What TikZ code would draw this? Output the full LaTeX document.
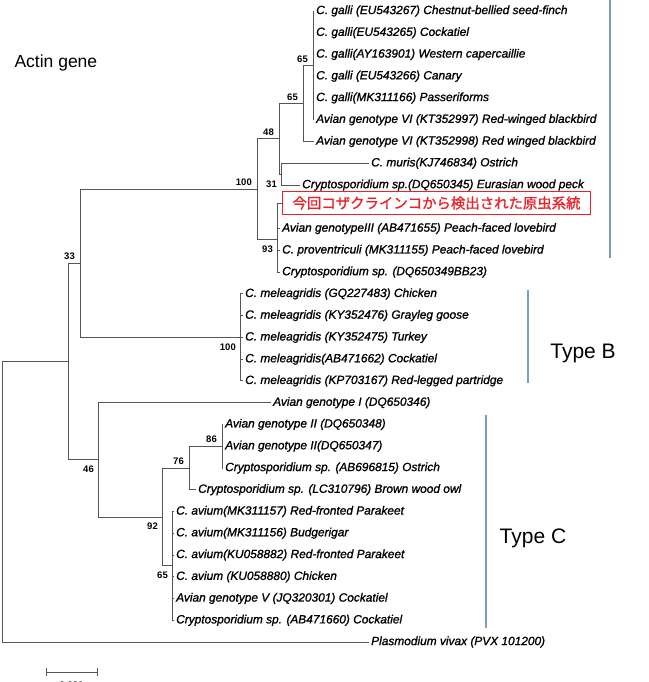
\documentclass[tikz,border=0pt]{standalone}
\usepackage{fontspec}
\setmainfont{Liberation Sans}[ItalicFeatures={FakeBold=1.2}]
\newfontfamily\cjk{Noto Sans CJK JP}[FakeBold=1.2]
\definecolor{treegray}{RGB}{85,85,85}
\definecolor{typeblue}{RGB}{125,155,195}
\definecolor{hitred}{RGB}{235,35,40}

\begin{document}
\begin{tikzpicture}[x=1pt,y=-1pt,
	branch/.style={draw=treegray,line width=0.9pt},
	leaf/.style={anchor=west,inner sep=2pt,font=\fontsize{11.9}{12}\selectfont\itshape},
	bootup/.style={anchor=south east,inner sep=1pt,xshift=-4pt,yshift=2pt,font=\fontsize{9.5}{10}\selectfont\bfseries},
	bootdown/.style={anchor=north east,inner sep=1pt,xshift=-3pt,yshift=-5pt,font=\fontsize{9.5}{10}\selectfont\bfseries},
	hitbox/.style={anchor=west,draw=hitred,text=hitred,line width=1.1pt,inner xsep=10pt,inner ysep=2pt,minimum height=23pt,font=\cjk\fontsize{14.4}{15}\selectfont},
	typeline/.style={draw=typeblue,line width=1.2pt},
	typename/.style={font=\fontsize{21}{22}\selectfont}]
	\useasboundingbox (0,0) rectangle (648,682);

	% inner nodes of the tree
	\coordinate (n65a) at (313,65.4);
	\coordinate (n65b) at (303,103.5);
	\coordinate (n31) at (281,174.2);
	\coordinate (n48) at (279,138.9);
	\coordinate (n93) at (277,239.5);
	\coordinate (n100a) at (257,189.2);
	\coordinate (n100b) at (240,337.4);
	\coordinate (n33) at (80,263.3);
	\coordinate (n86) at (222,446.2);
	\coordinate (n76) at (189,468);
	\coordinate (n65c) at (172,565.9);
	\coordinate (n92) at (162,517);
	\coordinate (n46) at (98,459.8);
	\coordinate (n68) at (68,361.6);
	\coordinate (root) at (2,501.8);

	% type A
	\node[leaf] (l1) at (314,11) {C. galli (EU543267) Chestnut-bellied seed-finch};
	\node[leaf] (l2) at (314,32.8) {C. galli(EU543265) Cockatiel};
	\node[leaf] (l3) at (314,54.5) {C. galli(AY163901) Western capercaillie};
	\node[leaf] (l4) at (314,76.3) {C. galli (EU543266) Canary};
	\node[leaf] (l5) at (314,98) {C. galli(MK311166) Passeriforms};
	\node[leaf] (l6) at (314,119.8) {Avian genotype VI (KT352997) Red-winged blackbird};
	\node[leaf] (l7) at (314,141.6) {Avian genotype VI (KT352998) Red winged blackbird};
	\node[leaf] (l8) at (369,163.3) {C. muris(KJ746834) Ostrich};
	\node[leaf] (l9) at (300,185.1) {Cryptosporidium sp.(DQ650345) Eurasian wood peck};
	\node[hitbox] (hit) at (282,203) {今回コザクラインコから検出された原虫系統};
	\node[leaf] (l11) at (280,228.6) {Avian genotypeIII (AB471655) Peach-faced lovebird};
	\node[leaf] (l12) at (280,250.4) {C. proventriculi (MK311155) Peach-faced lovebird};
	\node[leaf] (l13) at (280,272.1) {Cryptosporidium sp. (DQ650349BB23)};

	% type B
	\node[leaf] (l14) at (243,293.9) {C. meleagridis (GQ227483) Chicken};
	\node[leaf] (l15) at (243,315.6) {C. meleagridis (KY352476) Grayleg goose};
	\node[leaf] (l16) at (243,337.4) {C. meleagridis (KY352475) Turkey};
	\node[leaf] (l17) at (243,359.2) {C. meleagridis(AB471662) Cockatiel};
	\node[leaf] (l18) at (243,380.9) {C. meleagridis (KP703167) Red-legged partridge};

	% type C
	\node[leaf] (l19) at (271,402.7) {Avian genotype I (DQ650346)};
	\node[leaf] (l20) at (223,424.4) {Avian genotype II (DQ650348)};
	\node[leaf] (l21) at (223,446.2) {Avian genotype II(DQ650347)};
	\node[leaf] (l22) at (223,468) {Cryptosporidium sp. (AB696815) Ostrich};
	\node[leaf] (l23) at (196,489.7) {Cryptosporidium sp. (LC310796) Brown wood owl};
	\node[leaf] (l24) at (174,511.5) {C. avium(MK311157) Red-fronted Parakeet};
	\node[leaf] (l25) at (174,533.2) {C. avium(MK311156) Budgerigar};
	\node[leaf] (l26) at (174,555) {C. avium(KU058882) Red-fronted Parakeet};
	\node[leaf] (l27) at (174,576.8) {C. avium (KU058880) Chicken};
	\node[leaf] (l28) at (174,598.5) {Avian genotype V (JQ320301) Cockatiel};
	\node[leaf] (l29) at (174,620.3) {Cryptosporidium sp. (AB471660) Cockatiel};

	% outgroup
	\node[leaf] (l30) at (369,642) {Plasmodium vivax (PVX 101200)};

	% branches
	\draw[branch] (n65a) |- (l1.west) (n65a) |- (l2.west) (n65a) |- (l3.west)
		(n65a) |- (l4.west) (n65a) |- (l5.west) (n65a) |- (l6.west);
	\draw[branch] (n65b) |- (n65a) (n65b) |- (l7.west);
	\draw[branch] (n31) |- (l8.west) (n31) |- (l9.west);
	\draw[branch] (n48) |- (n65b) (n48) |- (n31);
	\draw[branch] (n93) |- (hit.west) (n93) |- (l11.west) (n93) |- (l12.west) (n93) |- (l13.west);
	\draw[branch] (n100a) |- (n48) (n100a) |- (n93);
	\draw[branch] (n100b) |- (l14.west) (n100b) |- (l15.west) (n100b) |- (l16.west)
		(n100b) |- (l17.west) (n100b) |- (l18.west);
	\draw[branch] (n33) |- (n100a) (n33) |- (n100b);
	\draw[branch] (n86) |- (l20.west) (n86) |- (l21.west) (n86) |- (l22.west);
	\draw[branch] (n76) |- (n86) (n76) |- (l23.west);
	\draw[branch] (n65c) |- (l24.west) (n65c) |- (l25.west) (n65c) |- (l26.west)
		(n65c) |- (l27.west) (n65c) |- (l28.west) (n65c) |- (l29.west);
	\draw[branch] (n92) |- (n76) (n92) |- (n65c);
	\draw[branch] (n46) |- (l19.west) (n46) |- (n92);
	\draw[branch] (n68) |- (n33) (n68) |- (n46);
	\draw[branch] (root) |- (n68) (root) |- (l30.west);

	% bootstrap values
	\node[bootup] (b65a) at (n65a) {65};
	\node[bootup] (b65b) at (n65b) {65};
	\node[bootup] (b48) at (n48) {48};
	\node[bootdown] (b31) at (n31) {31};
	\node[bootup] (b100a) at (n100a) {100};
	\node[bootdown] (b93) at (n93) {93};
	\node[bootup] (b33) at (n33) {33};
	\node[bootdown] (b100b) at (n100b) {100};
	\node[bootup] (b86) at (n86) {86};
	\node[bootup] (b76) at (n76) {76};
	\node[bootdown] (b46) at (n46) {46};
	\node[bootdown] (b92) at (n92) {92};
	\node[bootdown] (b65c) at (n65c) {65};

	% groups
	\node[anchor=west,font=\fontsize{17.5}{18}\selectfont] (title) at (11,63) {Actin gene};
	\draw[typeline] (610,0) -- (610,258);
	\draw[typeline] (528,290) -- (528,383);
	\node[typename] (typeb) at (583,353) {Type B};
	\draw[typeline] (486,415) -- (486,628);
	\node[typename] (typec) at (533,538) {Type C};

	% scale bar
	\coordinate (sbl) at (46,672);
	\coordinate (sbr) at (97,672);
	\draw[branch] (sbl) -- (sbr) ([yshift=4pt]sbl) -- ([yshift=-4pt]sbl) ([yshift=4pt]sbr) -- ([yshift=-4pt]sbr);
	\node[font=\fontsize{9.5}{10}\selectfont\bfseries,anchor=north] (sbtext) at (71.5,678) {0.020};
\end{tikzpicture}
\end{document}
